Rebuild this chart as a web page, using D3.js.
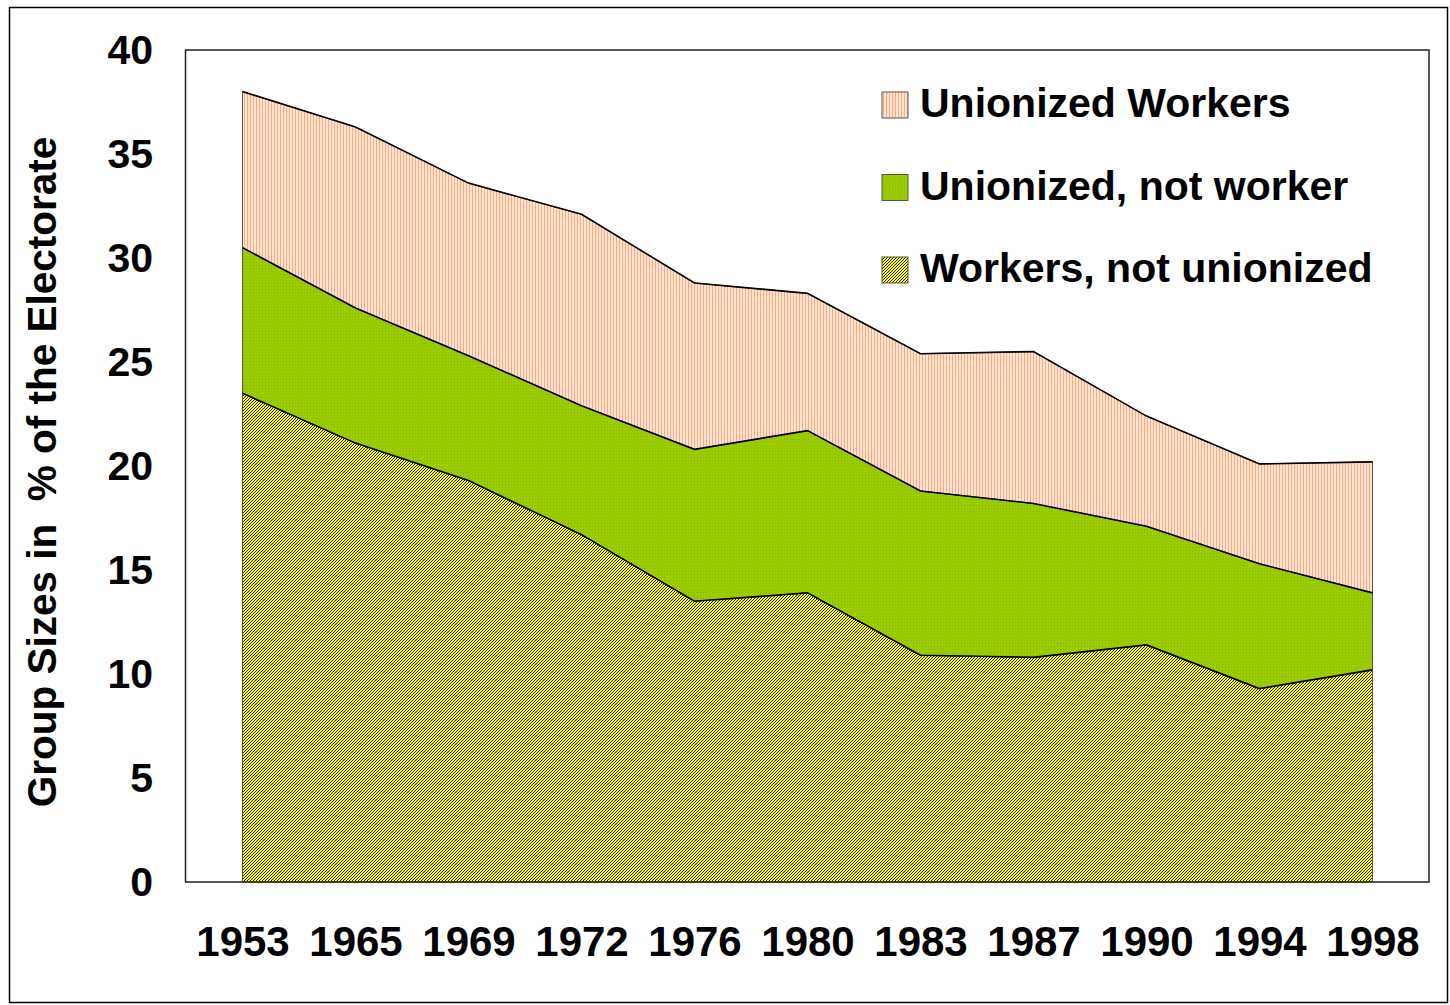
<!DOCTYPE html>
<html>
<head>
<meta charset="utf-8">
<script src="https://cdn.jsdelivr.net/npm/d3@7"></script>
<style>
  body { margin: 0; background: #fff; }
  svg text { font-family: Arial, "Liberation Sans", sans-serif; font-weight: bold; }
</style>
</head>
<body>
<svg id="chart" width="1450" height="1005"></svg>
<script>
// data (% of electorate)
var years = ["1953", "1965", "1969", "1972", "1976", "1980", "1983", "1987", "1990", "1994", "1998"];
var workersNotUnion = [23.5, 21.1, 19.3, 16.7, 13.5, 13.9, 10.9, 10.8, 11.4, 9.3, 10.2];
var unionNotWorker  = [7.0, 6.5, 6.0, 6.2, 7.3, 7.8, 7.9, 7.4, 5.7, 6.0, 3.7];
var unionWorkers    = [7.5, 8.7, 8.3, 9.2, 8.0, 6.6, 6.6, 7.3, 5.3, 4.8, 6.3];
var seriesNames = ["Workers, not unionized", "Unionized, not worker", "Unionized Workers"];
var yTicks = [0, 5, 10, 15, 20, 25, 30, 35, 40];

var svg = d3.select('#chart');
var plotL = 186, plotR = 1429, plotT = 50, plotB = 882;

// fill patterns
var defs = svg.append('defs');

var p1 = defs.append('pattern').attr('id', 'pat-stripe')
    .attr('patternUnits', 'userSpaceOnUse').attr('width', 3).attr('height', 3);
p1.append('rect').attr('width', 3).attr('height', 3).attr('fill', '#FFE4D2');
p1.append('rect').attr('x', 1).attr('width', 1).attr('height', 3).attr('fill', '#FFAA80');

var p2 = defs.append('pattern').attr('id', 'pat-dots')
    .attr('patternUnits', 'userSpaceOnUse').attr('width', 3).attr('height', 3);
p2.append('rect').attr('width', 3).attr('height', 3).attr('fill', '#9ACC00');
p2.append('rect').attr('x', 1).attr('y', 1).attr('width', 1).attr('height', 1).attr('fill', '#88B800');

var p3 = defs.append('pattern').attr('id', 'pat-hatch')
    .attr('patternUnits', 'userSpaceOnUse').attr('width', 3).attr('height', 3);
p3.append('rect').attr('width', 3).attr('height', 3).attr('fill', '#FFFF00');
[[0, 2], [1, 1], [2, 0]].forEach(function (p) {
    p3.append('rect').attr('x', p[0]).attr('y', p[1]).attr('width', 1).attr('height', 1).attr('fill', '#1a1a00');
});

var fills = ['url(#pat-hatch)', 'url(#pat-dots)', 'url(#pat-stripe)'];

// outer frame
svg.append('rect')
    .attr('x', 9.5).attr('y', 7.5).attr('width', 1438).attr('height', 995)
    .attr('fill', 'none').attr('stroke', '#000').attr('stroke-width', 1.5);

var x = d3.scalePoint().domain(years).range([plotL, plotR]).padding(0.5);
var y = d3.scaleLinear().domain([0, 40]).range([plotB, plotT]);

var table = years.map(function (yr, i) {
    return {year: yr, a: workersNotUnion[i], b: unionNotWorker[i], c: unionWorkers[i]};
});
var layers = d3.stack().keys(['a', 'b', 'c'])(table);

var area = d3.area()
    .x(function (d) { return x(d.data.year); })
    .y0(function (d) { return y(d[0]); })
    .y1(function (d) { return y(d[1]); });

var topLine = d3.line()
    .x(function (d) { return x(d.data.year); })
    .y(function (d) { return y(d[1]); });

svg.append('g').selectAll('path')
    .data(layers)
    .enter().append('path')
    .attr('d', area)
    .attr('fill', function (d, i) { return fills[i]; })
    .attr('stroke', '#555')
    .attr('stroke-width', 1);

svg.append('g').selectAll('path')
    .data(layers)
    .enter().append('path')
    .attr('d', topLine)
    .attr('fill', 'none')
    .attr('stroke', '#000')
    .attr('stroke-width', 1.6);

// plot box
svg.append('rect')
    .attr('x', plotL - 0.5).attr('y', plotT).attr('width', plotR - plotL + 0.5).attr('height', plotB - plotT)
    .attr('fill', 'none').attr('stroke', '#222').attr('stroke-width', 1.5);

// axes
var yAxis = svg.append('g')
    .attr('transform', 'translate(' + plotL + ',0)')
    .call(d3.axisLeft(y).tickValues(yTicks).tickSize(0).tickPadding(33));
yAxis.select('.domain').remove();
yAxis.selectAll('text').attr('font-size', 41).attr('fill', '#000');

var xAxis = svg.append('g')
    .attr('transform', 'translate(0,' + plotB + ')')
    .call(d3.axisBottom(x).tickSize(0).tickPadding(44));
xAxis.select('.domain').remove();
xAxis.selectAll('text').attr('font-size', 42).attr('fill', '#000');

svg.append('text')
    .attr('transform', 'translate(56,' + 472 + ') rotate(-90)')
    .attr('text-anchor', 'middle')
    .attr('font-size', 40.5)
    .attr('fill', '#000')
    .attr('xml:space', 'preserve')
    .style('white-space', 'pre')
    .text('Group Sizes in  % of the Electorate');

// legend (top entry = top layer)
var legendRows = [2, 1, 0];
var lg = svg.append('g').selectAll('g')
    .data(legendRows)
    .enter().append('g')
    .attr('transform', function (d, i) { return 'translate(882,' + (92 + i * 82.5) + ')'; });
lg.append('rect')
    .attr('width', 26).attr('height', 26)
    .attr('fill', function (d) { return fills[d]; })
    .attr('stroke', '#555').attr('stroke-width', 1);
lg.append('text')
    .attr('x', 38).attr('y', 25)
    .attr('font-size', 41)
    .attr('fill', '#000')
    .text(function (d) { return seriesNames[d]; });
</script>
</body>
</html>
